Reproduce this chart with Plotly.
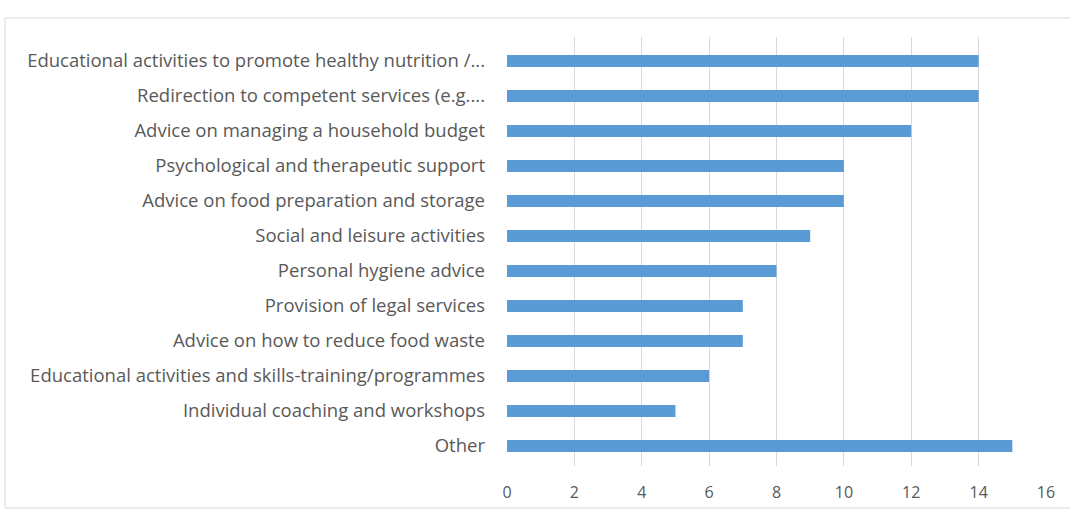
import plotly.graph_objects as go

categories = [
    "Educational activities to promote healthy nutrition /...",
    "Redirection to competent services (e.g....",
    "Advice on managing a household budget",
    "Psychological and therapeutic support",
    "Advice on food preparation and storage",
    "Social and leisure activities",
    "Personal hygiene advice",
    "Provision of legal services",
    "Advice on how to reduce food waste",
    "Educational activities and skills-training/programmes",
    "Individual coaching and workshops",
    "Other",
]
values = [14, 14, 12, 10, 10, 9, 8, 7, 7, 6, 5, 15]
x_ticks = [0, 2, 4, 6, 8, 10, 12, 14, 16]

W, H = 1070, 512
L, R, T, B = 507, 24, 37, 46
pw, ph = W - L - R, H - T - B

fig = go.Figure(go.Bar(
    x=values, y=categories, orientation="h",
    marker=dict(color="#5B9BD5", line=dict(width=0)),
    width=0.34,
))

font = dict(family="'Open Sans', sans-serif", size=18.5, color="#595959")

fig.update_layout(
    width=W, height=H,
    margin=dict(l=L, r=R, t=T, b=B, autoexpand=False),
    paper_bgcolor="white", plot_bgcolor="white",
    font=font,
    showlegend=False,
    xaxis=dict(
        range=[0, 16], tickvals=x_ticks, showgrid=True, gridcolor="#D9D9D9",
        gridwidth=1, zeroline=False, showline=False, ticks="",
        ticklabelstandoff=15, fixedrange=True, automargin=False,
        tickfont=dict(size=16),
    ),
    yaxis=dict(
        categoryorder="array", categoryarray=categories,
        range=[11.571, -0.686], showgrid=False, zeroline=False,
        showline=False, ticks="", ticklabelstandoff=21, fixedrange=True,
        automargin=False,
    ),
    shapes=[dict(
        type="rect", xref="paper", yref="paper",
        x0=(5 - L) / pw, x1=(1075 - L) / pw,
        y0=(H - 508 - B) / ph, y1=(H - 18 - B) / ph,
        line=dict(color="#D9D9D9", width=1), fillcolor="rgba(0,0,0,0)",
        layer="below",
    )],
)

fig.write_html("out.html")
